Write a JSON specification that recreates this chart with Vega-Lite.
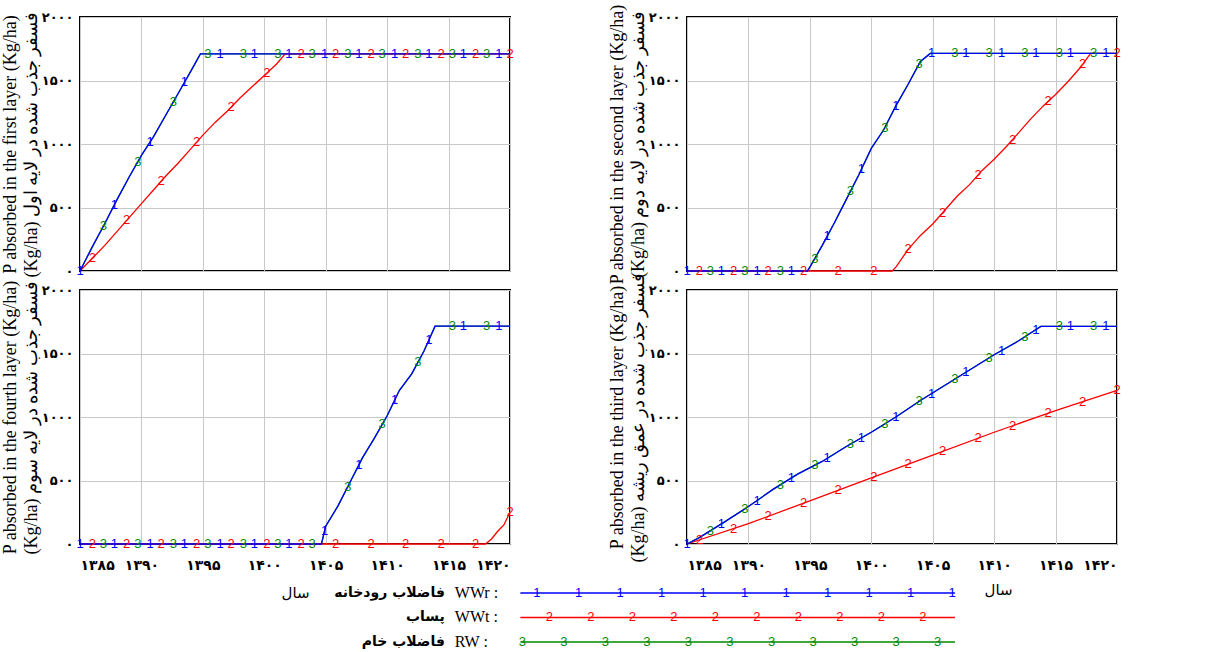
{
"$schema": "https://vega.github.io/schema/vega-lite/v6.json",
"background": "white",
"padding": {"left": 0, "top": 0, "right": 5, "bottom": 0},
"bounds": "flush",
"align": "each",
"columns": 2,
"spacing": {"row": 19, "column": 177},
"config": {
  "view": {"stroke": "#000000", "strokeWidth": 2},
  "axis": {"grid": true, "gridColor": "#c8c8c8", "gridWidth": 1, "domain": false, "ticks": false,
    "labelFont": "DejaVu Sans", "labelFontWeight": "bold", "labelFontSize": 13, "labelColor": "#000000",
    "titleColor": "#000000", "titleFont": "Liberation Serif", "titleFontWeight": "normal", "titleFontSize": 18},
  "text": {"font": "Liberation Sans", "fontSize": 13}
},
"datasets": {
  "lines": [
    {"p":"L1","s":"RW","x":1385,"y":0},{"p":"L1","s":"RW","x":1386,"y":190},{"p":"L1","s":"RW","x":1387,"y":370},{"p":"L1","s":"RW","x":1388,"y":560},{"p":"L1","s":"RW","x":1389,"y":740},{"p":"L1","s":"RW","x":1390,"y":910},{"p":"L1","s":"RW","x":1391,"y":1060},{"p":"L1","s":"RW","x":1392,"y":1230},{"p":"L1","s":"RW","x":1393,"y":1400},{"p":"L1","s":"RW","x":1394,"y":1570},{"p":"L1","s":"RW","x":1394.8,"y":1710},{"p":"L1","s":"RW","x":1420,"y":1710},
    {"p":"L1","s":"WWr","x":1385,"y":0},{"p":"L1","s":"WWr","x":1386,"y":190},{"p":"L1","s":"WWr","x":1387,"y":370},{"p":"L1","s":"WWr","x":1388,"y":560},{"p":"L1","s":"WWr","x":1389,"y":740},{"p":"L1","s":"WWr","x":1390,"y":910},{"p":"L1","s":"WWr","x":1391,"y":1060},{"p":"L1","s":"WWr","x":1392,"y":1230},{"p":"L1","s":"WWr","x":1393,"y":1400},{"p":"L1","s":"WWr","x":1394,"y":1570},{"p":"L1","s":"WWr","x":1394.8,"y":1710},{"p":"L1","s":"WWr","x":1420,"y":1710},
    {"p":"L1","s":"WWt","x":1385,"y":0},{"p":"L1","s":"WWt","x":1386,"y":100},{"p":"L1","s":"WWt","x":1387,"y":200},{"p":"L1","s":"WWt","x":1388,"y":310},{"p":"L1","s":"WWt","x":1389,"y":420},{"p":"L1","s":"WWt","x":1390,"y":530},{"p":"L1","s":"WWt","x":1391,"y":640},{"p":"L1","s":"WWt","x":1392,"y":750},{"p":"L1","s":"WWt","x":1393,"y":850},{"p":"L1","s":"WWt","x":1394,"y":960},{"p":"L1","s":"WWt","x":1395,"y":1070},{"p":"L1","s":"WWt","x":1396,"y":1170},{"p":"L1","s":"WWt","x":1397,"y":1260},{"p":"L1","s":"WWt","x":1398,"y":1360},{"p":"L1","s":"WWt","x":1399,"y":1450},{"p":"L1","s":"WWt","x":1400,"y":1540},{"p":"L1","s":"WWt","x":1401,"y":1630},{"p":"L1","s":"WWt","x":1401.7,"y":1710},{"p":"L1","s":"WWt","x":1420,"y":1710},

    {"p":"L2","s":"RW","x":1385,"y":0},{"p":"L2","s":"RW","x":1394.8,"y":0},{"p":"L2","s":"RW","x":1395,"y":30},{"p":"L2","s":"RW","x":1396,"y":200},{"p":"L2","s":"RW","x":1397,"y":380},{"p":"L2","s":"RW","x":1398,"y":570},{"p":"L2","s":"RW","x":1399,"y":760},{"p":"L2","s":"RW","x":1400,"y":965},{"p":"L2","s":"RW","x":1401,"y":1110},{"p":"L2","s":"RW","x":1402,"y":1300},{"p":"L2","s":"RW","x":1403,"y":1470},{"p":"L2","s":"RW","x":1404,"y":1650},{"p":"L2","s":"RW","x":1404.8,"y":1713},{"p":"L2","s":"RW","x":1420,"y":1713},
    {"p":"L2","s":"WWr","x":1385,"y":0},{"p":"L2","s":"WWr","x":1394.8,"y":0},{"p":"L2","s":"WWr","x":1395,"y":30},{"p":"L2","s":"WWr","x":1396,"y":200},{"p":"L2","s":"WWr","x":1397,"y":380},{"p":"L2","s":"WWr","x":1398,"y":570},{"p":"L2","s":"WWr","x":1399,"y":760},{"p":"L2","s":"WWr","x":1400,"y":965},{"p":"L2","s":"WWr","x":1401,"y":1110},{"p":"L2","s":"WWr","x":1402,"y":1300},{"p":"L2","s":"WWr","x":1403,"y":1470},{"p":"L2","s":"WWr","x":1404,"y":1650},{"p":"L2","s":"WWr","x":1404.8,"y":1713},{"p":"L2","s":"WWr","x":1420,"y":1713},
    {"p":"L2","s":"WWt","x":1385,"y":0},{"p":"L2","s":"WWt","x":1401.7,"y":0},{"p":"L2","s":"WWt","x":1402,"y":30},{"p":"L2","s":"WWt","x":1403,"y":170},{"p":"L2","s":"WWt","x":1404,"y":280},{"p":"L2","s":"WWt","x":1405,"y":370},{"p":"L2","s":"WWt","x":1406,"y":480},{"p":"L2","s":"WWt","x":1407,"y":590},{"p":"L2","s":"WWt","x":1408,"y":680},{"p":"L2","s":"WWt","x":1409,"y":790},{"p":"L2","s":"WWt","x":1410,"y":880},{"p":"L2","s":"WWt","x":1411,"y":980},{"p":"L2","s":"WWt","x":1412,"y":1090},{"p":"L2","s":"WWt","x":1413,"y":1200},{"p":"L2","s":"WWt","x":1414,"y":1300},{"p":"L2","s":"WWt","x":1415,"y":1390},{"p":"L2","s":"WWt","x":1416,"y":1490},{"p":"L2","s":"WWt","x":1417,"y":1600},{"p":"L2","s":"WWt","x":1417.85,"y":1713},{"p":"L2","s":"WWt","x":1420,"y":1713},

    {"p":"L3","s":"RW","x":1385,"y":0},{"p":"L3","s":"RW","x":1386,"y":50},{"p":"L3","s":"RW","x":1388,"y":170},{"p":"L3","s":"RW","x":1390,"y":295},{"p":"L3","s":"RW","x":1392,"y":430},{"p":"L3","s":"RW","x":1394,"y":550},{"p":"L3","s":"RW","x":1396,"y":650},{"p":"L3","s":"RW","x":1398,"y":770},{"p":"L3","s":"RW","x":1400,"y":880},{"p":"L3","s":"RW","x":1402,"y":1000},{"p":"L3","s":"RW","x":1404,"y":1130},{"p":"L3","s":"RW","x":1406,"y":1250},{"p":"L3","s":"RW","x":1408,"y":1370},{"p":"L3","s":"RW","x":1410,"y":1490},{"p":"L3","s":"RW","x":1412,"y":1600},{"p":"L3","s":"RW","x":1413.8,"y":1713},{"p":"L3","s":"RW","x":1420,"y":1713},
    {"p":"L3","s":"WWr","x":1385,"y":0},{"p":"L3","s":"WWr","x":1386,"y":50},{"p":"L3","s":"WWr","x":1388,"y":170},{"p":"L3","s":"WWr","x":1390,"y":295},{"p":"L3","s":"WWr","x":1392,"y":430},{"p":"L3","s":"WWr","x":1394,"y":550},{"p":"L3","s":"WWr","x":1396,"y":650},{"p":"L3","s":"WWr","x":1398,"y":770},{"p":"L3","s":"WWr","x":1400,"y":880},{"p":"L3","s":"WWr","x":1402,"y":1000},{"p":"L3","s":"WWr","x":1404,"y":1130},{"p":"L3","s":"WWr","x":1406,"y":1250},{"p":"L3","s":"WWr","x":1408,"y":1370},{"p":"L3","s":"WWr","x":1410,"y":1490},{"p":"L3","s":"WWr","x":1412,"y":1600},{"p":"L3","s":"WWr","x":1413.8,"y":1713},{"p":"L3","s":"WWr","x":1420,"y":1713},
    {"p":"L3","s":"WWt","x":1385,"y":0},{"p":"L3","s":"WWt","x":1390,"y":160},{"p":"L3","s":"WWt","x":1395,"y":340},{"p":"L3","s":"WWt","x":1400,"y":520},{"p":"L3","s":"WWt","x":1405,"y":700},{"p":"L3","s":"WWt","x":1410,"y":880},{"p":"L3","s":"WWt","x":1415,"y":1050},{"p":"L3","s":"WWt","x":1420,"y":1210},

    {"p":"L4","s":"RW","x":1385,"y":0},{"p":"L4","s":"RW","x":1404.65,"y":0},{"p":"L4","s":"RW","x":1405,"y":140},{"p":"L4","s":"RW","x":1406,"y":300},{"p":"L4","s":"RW","x":1407,"y":490},{"p":"L4","s":"RW","x":1408,"y":680},{"p":"L4","s":"RW","x":1409,"y":840},{"p":"L4","s":"RW","x":1410,"y":1010},{"p":"L4","s":"RW","x":1411,"y":1210},{"p":"L4","s":"RW","x":1412,"y":1340},{"p":"L4","s":"RW","x":1413,"y":1520},{"p":"L4","s":"RW","x":1413.9,"y":1715},{"p":"L4","s":"RW","x":1420,"y":1715},
    {"p":"L4","s":"WWr","x":1385,"y":0},{"p":"L4","s":"WWr","x":1404.65,"y":0},{"p":"L4","s":"WWr","x":1405,"y":140},{"p":"L4","s":"WWr","x":1406,"y":300},{"p":"L4","s":"WWr","x":1407,"y":490},{"p":"L4","s":"WWr","x":1408,"y":680},{"p":"L4","s":"WWr","x":1409,"y":840},{"p":"L4","s":"WWr","x":1410,"y":1010},{"p":"L4","s":"WWr","x":1411,"y":1210},{"p":"L4","s":"WWr","x":1412,"y":1340},{"p":"L4","s":"WWr","x":1413,"y":1520},{"p":"L4","s":"WWr","x":1413.9,"y":1715},{"p":"L4","s":"WWr","x":1420,"y":1715},
    {"p":"L4","s":"WWt","x":1385,"y":0},{"p":"L4","s":"WWt","x":1418,"y":0},{"p":"L4","s":"WWt","x":1418.5,"y":40},{"p":"L4","s":"WWt","x":1419,"y":100},{"p":"L4","s":"WWt","x":1419.5,"y":150},{"p":"L4","s":"WWt","x":1420,"y":250}
  ],
  "marks": [
    {"p":"L1","s":"WWr","t":"1","x":1385,"y":0},{"p":"L1","s":"WWr","t":"1","x":1387.8,"y":522},{"p":"L1","s":"WWr","t":"1","x":1390.7,"y":1015},{"p":"L1","s":"WWr","t":"1","x":1393.5,"y":1485},{"p":"L1","s":"WWr","t":"1","x":1396.4,"y":1710},{"p":"L1","s":"WWr","t":"1","x":1399.2,"y":1710},{"p":"L1","s":"WWr","t":"1","x":1402,"y":1710},{"p":"L1","s":"WWr","t":"1","x":1404.9,"y":1710},{"p":"L1","s":"WWr","t":"1","x":1407.7,"y":1710},{"p":"L1","s":"WWr","t":"1","x":1410.6,"y":1710},{"p":"L1","s":"WWr","t":"1","x":1413.4,"y":1710},{"p":"L1","s":"WWr","t":"1","x":1416.2,"y":1710},{"p":"L1","s":"WWr","t":"1","x":1419.1,"y":1710},
    {"p":"L1","s":"WWt","t":"2","x":1386,"y":100},{"p":"L1","s":"WWt","t":"2","x":1388.8,"y":398},{"p":"L1","s":"WWt","t":"2","x":1391.6,"y":706},{"p":"L1","s":"WWt","t":"2","x":1394.5,"y":1015},{"p":"L1","s":"WWt","t":"2","x":1397.3,"y":1290},{"p":"L1","s":"WWt","t":"2","x":1400.2,"y":1558},{"p":"L1","s":"WWt","t":"2","x":1403,"y":1710},{"p":"L1","s":"WWt","t":"2","x":1405.8,"y":1710},{"p":"L1","s":"WWt","t":"2","x":1408.7,"y":1710},{"p":"L1","s":"WWt","t":"2","x":1411.5,"y":1710},{"p":"L1","s":"WWt","t":"2","x":1414.4,"y":1710},{"p":"L1","s":"WWt","t":"2","x":1417.2,"y":1710},{"p":"L1","s":"WWt","t":"2","x":1420,"y":1710},
    {"p":"L1","s":"RW","t":"3","x":1386.9,"y":352},{"p":"L1","s":"RW","t":"3","x":1389.7,"y":859},{"p":"L1","s":"RW","t":"3","x":1392.6,"y":1332},{"p":"L1","s":"RW","t":"3","x":1395.4,"y":1710},{"p":"L1","s":"RW","t":"3","x":1398.3,"y":1710},{"p":"L1","s":"RW","t":"3","x":1401.1,"y":1710},{"p":"L1","s":"RW","t":"3","x":1403.9,"y":1710},{"p":"L1","s":"RW","t":"3","x":1406.8,"y":1710},{"p":"L1","s":"RW","t":"3","x":1409.6,"y":1710},{"p":"L1","s":"RW","t":"3","x":1412.5,"y":1710},{"p":"L1","s":"RW","t":"3","x":1415.3,"y":1710},{"p":"L1","s":"RW","t":"3","x":1418.1,"y":1710},

    {"p":"L2","s":"WWr","t":"1","x":1385,"y":0},{"p":"L2","s":"WWr","t":"1","x":1387.8,"y":0},{"p":"L2","s":"WWr","t":"1","x":1390.7,"y":0},{"p":"L2","s":"WWr","t":"1","x":1393.5,"y":0},{"p":"L2","s":"WWr","t":"1","x":1396.4,"y":272},{"p":"L2","s":"WWr","t":"1","x":1399.2,"y":801},{"p":"L2","s":"WWr","t":"1","x":1402,"y":1300},{"p":"L2","s":"WWr","t":"1","x":1404.9,"y":1713},{"p":"L2","s":"WWr","t":"1","x":1407.7,"y":1713},{"p":"L2","s":"WWr","t":"1","x":1410.6,"y":1713},{"p":"L2","s":"WWr","t":"1","x":1413.4,"y":1713},{"p":"L2","s":"WWr","t":"1","x":1416.2,"y":1713},{"p":"L2","s":"WWr","t":"1","x":1419.1,"y":1713},
    {"p":"L2","s":"WWt","t":"2","x":1386,"y":0},{"p":"L2","s":"WWt","t":"2","x":1388.8,"y":0},{"p":"L2","s":"WWt","t":"2","x":1391.6,"y":0},{"p":"L2","s":"WWt","t":"2","x":1394.5,"y":0},{"p":"L2","s":"WWt","t":"2","x":1397.3,"y":0},{"p":"L2","s":"WWt","t":"2","x":1400.2,"y":0},{"p":"L2","s":"WWt","t":"2","x":1403,"y":170},{"p":"L2","s":"WWt","t":"2","x":1405.8,"y":458},{"p":"L2","s":"WWt","t":"2","x":1408.7,"y":757},{"p":"L2","s":"WWt","t":"2","x":1411.5,"y":1035},{"p":"L2","s":"WWt","t":"2","x":1414.4,"y":1336},{"p":"L2","s":"WWt","t":"2","x":1417.2,"y":1627},{"p":"L2","s":"WWt","t":"2","x":1420,"y":1713},
    {"p":"L2","s":"RW","t":"3","x":1386.9,"y":0},{"p":"L2","s":"RW","t":"3","x":1389.7,"y":0},{"p":"L2","s":"RW","t":"3","x":1392.6,"y":0},{"p":"L2","s":"RW","t":"3","x":1395.4,"y":98},{"p":"L2","s":"RW","t":"3","x":1398.3,"y":627},{"p":"L2","s":"RW","t":"3","x":1401.1,"y":1129},{"p":"L2","s":"RW","t":"3","x":1403.9,"y":1632},{"p":"L2","s":"RW","t":"3","x":1406.8,"y":1713},{"p":"L2","s":"RW","t":"3","x":1409.6,"y":1713},{"p":"L2","s":"RW","t":"3","x":1412.5,"y":1713},{"p":"L2","s":"RW","t":"3","x":1415.3,"y":1713},{"p":"L2","s":"RW","t":"3","x":1418.1,"y":1713},

    {"p":"L3","s":"WWr","t":"1","x":1385,"y":0},{"p":"L3","s":"WWr","t":"1","x":1387.8,"y":158},{"p":"L3","s":"WWr","t":"1","x":1390.7,"y":342},{"p":"L3","s":"WWr","t":"1","x":1393.5,"y":520},{"p":"L3","s":"WWr","t":"1","x":1396.4,"y":674},{"p":"L3","s":"WWr","t":"1","x":1399.2,"y":836},{"p":"L3","s":"WWr","t":"1","x":1402,"y":1000},{"p":"L3","s":"WWr","t":"1","x":1404.9,"y":1184},{"p":"L3","s":"WWr","t":"1","x":1407.7,"y":1352},{"p":"L3","s":"WWr","t":"1","x":1410.6,"y":1523},{"p":"L3","s":"WWr","t":"1","x":1413.4,"y":1688},{"p":"L3","s":"WWr","t":"1","x":1416.2,"y":1713},{"p":"L3","s":"WWr","t":"1","x":1419.1,"y":1713},
    {"p":"L3","s":"WWt","t":"2","x":1386,"y":32},{"p":"L3","s":"WWt","t":"2","x":1388.8,"y":122},{"p":"L3","s":"WWt","t":"2","x":1391.6,"y":218},{"p":"L3","s":"WWt","t":"2","x":1394.5,"y":322},{"p":"L3","s":"WWt","t":"2","x":1397.3,"y":423},{"p":"L3","s":"WWt","t":"2","x":1400.2,"y":527},{"p":"L3","s":"WWt","t":"2","x":1403,"y":628},{"p":"L3","s":"WWt","t":"2","x":1405.8,"y":729},{"p":"L3","s":"WWt","t":"2","x":1408.7,"y":833},{"p":"L3","s":"WWt","t":"2","x":1411.5,"y":931},{"p":"L3","s":"WWt","t":"2","x":1414.4,"y":1030},{"p":"L3","s":"WWt","t":"2","x":1417.2,"y":1120},{"p":"L3","s":"WWt","t":"2","x":1420,"y":1210},
    {"p":"L3","s":"RW","t":"3","x":1386.9,"y":104},{"p":"L3","s":"RW","t":"3","x":1389.7,"y":276},{"p":"L3","s":"RW","t":"3","x":1392.6,"y":466},{"p":"L3","s":"RW","t":"3","x":1395.4,"y":620},{"p":"L3","s":"RW","t":"3","x":1398.3,"y":787},{"p":"L3","s":"RW","t":"3","x":1401.1,"y":946},{"p":"L3","s":"RW","t":"3","x":1403.9,"y":1124},{"p":"L3","s":"RW","t":"3","x":1406.8,"y":1298},{"p":"L3","s":"RW","t":"3","x":1409.6,"y":1466},{"p":"L3","s":"RW","t":"3","x":1412.5,"y":1631},{"p":"L3","s":"RW","t":"3","x":1415.3,"y":1713},{"p":"L3","s":"RW","t":"3","x":1418.1,"y":1713},

    {"p":"L4","s":"WWr","t":"1","x":1385,"y":0},{"p":"L4","s":"WWr","t":"1","x":1387.8,"y":0},{"p":"L4","s":"WWr","t":"1","x":1390.7,"y":0},{"p":"L4","s":"WWr","t":"1","x":1393.5,"y":0},{"p":"L4","s":"WWr","t":"1","x":1396.4,"y":0},{"p":"L4","s":"WWr","t":"1","x":1399.2,"y":0},{"p":"L4","s":"WWr","t":"1","x":1402,"y":0},{"p":"L4","s":"WWr","t":"1","x":1404.9,"y":100},{"p":"L4","s":"WWr","t":"1","x":1407.7,"y":623},{"p":"L4","s":"WWr","t":"1","x":1410.6,"y":1130},{"p":"L4","s":"WWr","t":"1","x":1413.4,"y":1607},{"p":"L4","s":"WWr","t":"1","x":1416.2,"y":1715},{"p":"L4","s":"WWr","t":"1","x":1419.1,"y":1715},
    {"p":"L4","s":"WWt","t":"2","x":1386,"y":0},{"p":"L4","s":"WWt","t":"2","x":1388.8,"y":0},{"p":"L4","s":"WWt","t":"2","x":1391.6,"y":0},{"p":"L4","s":"WWt","t":"2","x":1394.5,"y":0},{"p":"L4","s":"WWt","t":"2","x":1397.3,"y":0},{"p":"L4","s":"WWt","t":"2","x":1400.2,"y":0},{"p":"L4","s":"WWt","t":"2","x":1403,"y":0},{"p":"L4","s":"WWt","t":"2","x":1405.8,"y":0},{"p":"L4","s":"WWt","t":"2","x":1408.7,"y":0},{"p":"L4","s":"WWt","t":"2","x":1411.5,"y":0},{"p":"L4","s":"WWt","t":"2","x":1414.4,"y":0},{"p":"L4","s":"WWt","t":"2","x":1417.2,"y":0},{"p":"L4","s":"WWt","t":"2","x":1420,"y":250},
    {"p":"L4","s":"RW","t":"3","x":1386.9,"y":0},{"p":"L4","s":"RW","t":"3","x":1389.7,"y":0},{"p":"L4","s":"RW","t":"3","x":1392.6,"y":0},{"p":"L4","s":"RW","t":"3","x":1395.4,"y":0},{"p":"L4","s":"RW","t":"3","x":1398.3,"y":0},{"p":"L4","s":"RW","t":"3","x":1401.1,"y":0},{"p":"L4","s":"RW","t":"3","x":1403.9,"y":0},{"p":"L4","s":"RW","t":"3","x":1406.8,"y":452},{"p":"L4","s":"RW","t":"3","x":1409.6,"y":942},{"p":"L4","s":"RW","t":"3","x":1412.5,"y":1430},{"p":"L4","s":"RW","t":"3","x":1415.3,"y":1715},{"p":"L4","s":"RW","t":"3","x":1418.1,"y":1715}
  ],
  "legendRows": [
    {"s":"WWr","code":"WWr :","fa":"فاضلاب رودخانه"},
    {"s":"WWt","code":"WWt :","fa":"پساب"},
    {"s":"RW","code":"RW :","fa":"فاضلاب خام"}
  ],
  "legendMarks": [
    {"s":"WWr","t":"1","u":0},{"s":"WWr","t":"1","u":1},{"s":"WWr","t":"1","u":2},{"s":"WWr","t":"1","u":3},{"s":"WWr","t":"1","u":4},{"s":"WWr","t":"1","u":5},{"s":"WWr","t":"1","u":6},{"s":"WWr","t":"1","u":7},{"s":"WWr","t":"1","u":8},{"s":"WWr","t":"1","u":9},{"s":"WWr","t":"1","u":10},
    {"s":"WWt","t":"2","u":0.3},{"s":"WWt","t":"2","u":1.3},{"s":"WWt","t":"2","u":2.3},{"s":"WWt","t":"2","u":3.3},{"s":"WWt","t":"2","u":4.3},{"s":"WWt","t":"2","u":5.3},{"s":"WWt","t":"2","u":6.3},{"s":"WWt","t":"2","u":7.3},{"s":"WWt","t":"2","u":8.3},{"s":"WWt","t":"2","u":9.3},
    {"s":"RW","t":"3","u":-0.35},{"s":"RW","t":"3","u":0.65},{"s":"RW","t":"3","u":1.65},{"s":"RW","t":"3","u":2.65},{"s":"RW","t":"3","u":3.65},{"s":"RW","t":"3","u":4.65},{"s":"RW","t":"3","u":5.65},{"s":"RW","t":"3","u":6.65},{"s":"RW","t":"3","u":7.65},{"s":"RW","t":"3","u":8.65},{"s":"RW","t":"3","u":9.65}
  ]
},
"concat": [
  {
    "width": 430, "height": 254,
    "encoding": {
      "x": {"field": "x", "type": "quantitative", "scale": {"domain": [1385, 1420], "nice": false, "zero": false},
        "axis": {"values": [1385,1390,1395,1400,1405,1410,1415,1420], "labels": false, "title": null}},
      "y": {"field": "y", "type": "quantitative", "scale": {"domain": [0, 2000], "nice": false},
        "axis": {"values": [0,500,1000,1500,2000], "labelPadding": 7, "titlePadding": 1, "titleLineHeight": 21,
          "labelExpr": "replace(replace(replace(replace(replace(replace(replace(replace(replace(replace(format(datum.value,'d'),regexp('0','g'),'۰'),regexp('1','g'),'۱'),regexp('2','g'),'۲'),regexp('3','g'),'۳'),regexp('4','g'),'۴'),regexp('5','g'),'۵'),regexp('6','g'),'۶'),regexp('7','g'),'۷'),regexp('8','g'),'۸'),regexp('9','g'),'۹')",
          "title": ["P absorbed in the first layer (Kg/ha)", "(Kg/ha) فسفر جذب شده در لایه اول"]}}
    },
    "layer": [
      {"data": {"name": "lines"}, "transform": [{"filter": "datum.p == 'L1' && datum.s == 'RW'"}], "mark": {"type": "line", "color": "#008800", "strokeWidth": 1.3}},
      {"data": {"name": "lines"}, "transform": [{"filter": "datum.p == 'L1' && datum.s == 'WWt'"}], "mark": {"type": "line", "color": "#ff0000", "strokeWidth": 1.3}},
      {"data": {"name": "lines"}, "transform": [{"filter": "datum.p == 'L1' && datum.s == 'WWr'"}], "mark": {"type": "line", "color": "#0000ff", "strokeWidth": 1.3}},
      {"data": {"name": "marks"}, "transform": [{"filter": "datum.p == 'L1'"}], "mark": {"type": "text", "align": "center", "baseline": "middle"},
        "encoding": {"text": {"field": "t"}, "color": {"field": "s", "type": "nominal", "scale": {"domain": ["WWr","WWt","RW"], "range": ["#0000ff","#ff0000","#008800"]}, "legend": null}}}
    ]
  },
  {
    "width": 430, "height": 254,
    "encoding": {
      "x": {"field": "x", "type": "quantitative", "scale": {"domain": [1385, 1420], "nice": false, "zero": false},
        "axis": {"values": [1385,1390,1395,1400,1405,1410,1415,1420], "labels": false, "title": null}},
      "y": {"field": "y", "type": "quantitative", "scale": {"domain": [0, 2000], "nice": false},
        "axis": {"values": [0,500,1000,1500,2000], "labelPadding": 7, "titlePadding": 1, "titleLineHeight": 21,
          "labelExpr": "replace(replace(replace(replace(replace(replace(replace(replace(replace(replace(format(datum.value,'d'),regexp('0','g'),'۰'),regexp('1','g'),'۱'),regexp('2','g'),'۲'),regexp('3','g'),'۳'),regexp('4','g'),'۴'),regexp('5','g'),'۵'),regexp('6','g'),'۶'),regexp('7','g'),'۷'),regexp('8','g'),'۸'),regexp('9','g'),'۹')",
          "title": ["P absorbed in  the second layer (Kg/ha)", "(Kg/ha) فسفر جذب شده در لایه دوم"]}}
    },
    "layer": [
      {"data": {"name": "lines"}, "transform": [{"filter": "datum.p == 'L2' && datum.s == 'RW'"}], "mark": {"type": "line", "color": "#008800", "strokeWidth": 1.3}},
      {"data": {"name": "lines"}, "transform": [{"filter": "datum.p == 'L2' && datum.s == 'WWt'"}], "mark": {"type": "line", "color": "#ff0000", "strokeWidth": 1.3}},
      {"data": {"name": "lines"}, "transform": [{"filter": "datum.p == 'L2' && datum.s == 'WWr'"}], "mark": {"type": "line", "color": "#0000ff", "strokeWidth": 1.3}},
      {"data": {"name": "marks"}, "transform": [{"filter": "datum.p == 'L2'"}], "mark": {"type": "text", "align": "center", "baseline": "middle"},
        "encoding": {"text": {"field": "t"}, "color": {"field": "s", "type": "nominal", "scale": {"domain": ["WWr","WWt","RW"], "range": ["#0000ff","#ff0000","#008800"]}, "legend": null}}}
    ]
  },
  {
    "width": 430, "height": 254,
    "encoding": {
      "x": {"field": "x", "type": "quantitative", "scale": {"domain": [1385, 1420], "nice": false, "zero": false},
        "axis": {"values": [1385,1390,1395,1400,1405,1410,1415,1420], "labelPadding": 14, "labelFontSize": 14,
          "labelExpr": "replace(replace(replace(replace(replace(replace(replace(replace(replace(replace(format(datum.value,'d'),regexp('0','g'),'۰'),regexp('1','g'),'۱'),regexp('2','g'),'۲'),regexp('3','g'),'۳'),regexp('4','g'),'۴'),regexp('5','g'),'۵'),regexp('6','g'),'۶'),regexp('7','g'),'۷'),regexp('8','g'),'۸'),regexp('9','g'),'۹')",
          "title": "سال", "titleFont": "DejaVu Sans", "titleFontSize": 15, "titlePadding": 13}},
      "y": {"field": "y", "type": "quantitative", "scale": {"domain": [0, 2000], "nice": false},
        "axis": {"values": [0,500,1000,1500,2000], "labelPadding": 7, "titlePadding": 1, "titleLineHeight": 21,
          "labelExpr": "replace(replace(replace(replace(replace(replace(replace(replace(replace(replace(format(datum.value,'d'),regexp('0','g'),'۰'),regexp('1','g'),'۱'),regexp('2','g'),'۲'),regexp('3','g'),'۳'),regexp('4','g'),'۴'),regexp('5','g'),'۵'),regexp('6','g'),'۶'),regexp('7','g'),'۷'),regexp('8','g'),'۸'),regexp('9','g'),'۹')",
          "title": ["P absorbed in  the fourth layer (Kg/ha)", "(Kg/ha) فسفر جذب شده در لایه سوم"]}}
    },
    "layer": [
      {"data": {"name": "lines"}, "transform": [{"filter": "datum.p == 'L4' && datum.s == 'RW'"}], "mark": {"type": "line", "color": "#008800", "strokeWidth": 1.3}},
      {"data": {"name": "lines"}, "transform": [{"filter": "datum.p == 'L4' && datum.s == 'WWt'"}], "mark": {"type": "line", "color": "#ff0000", "strokeWidth": 1.3}},
      {"data": {"name": "lines"}, "transform": [{"filter": "datum.p == 'L4' && datum.s == 'WWr'"}], "mark": {"type": "line", "color": "#0000ff", "strokeWidth": 1.3}},
      {"data": {"name": "marks"}, "transform": [{"filter": "datum.p == 'L4'"}], "mark": {"type": "text", "align": "center", "baseline": "middle"},
        "encoding": {"text": {"field": "t"}, "color": {"field": "s", "type": "nominal", "scale": {"domain": ["WWr","WWt","RW"], "range": ["#0000ff","#ff0000","#008800"]}, "legend": null}}}
    ]
  },
  {
    "width": 430, "height": 254,
    "encoding": {
      "x": {"field": "x", "type": "quantitative", "scale": {"domain": [1385, 1420], "nice": false, "zero": false},
        "axis": {"values": [1385,1390,1395,1400,1405,1410,1415,1420], "labelPadding": 14, "labelFontSize": 14,
          "labelExpr": "replace(replace(replace(replace(replace(replace(replace(replace(replace(replace(format(datum.value,'d'),regexp('0','g'),'۰'),regexp('1','g'),'۱'),regexp('2','g'),'۲'),regexp('3','g'),'۳'),regexp('4','g'),'۴'),regexp('5','g'),'۵'),regexp('6','g'),'۶'),regexp('7','g'),'۷'),regexp('8','g'),'۸'),regexp('9','g'),'۹')",
          "title": "سال", "titleFont": "DejaVu Sans", "titleFontSize": 15, "titlePadding": 10, "titleX": 311}},
      "y": {"field": "y", "type": "quantitative", "scale": {"domain": [0, 2000], "nice": false},
        "axis": {"values": [0,500,1000,1500,2000], "labelPadding": 7, "titlePadding": 1, "titleLineHeight": 21,
          "labelExpr": "replace(replace(replace(replace(replace(replace(replace(replace(replace(replace(format(datum.value,'d'),regexp('0','g'),'۰'),regexp('1','g'),'۱'),regexp('2','g'),'۲'),regexp('3','g'),'۳'),regexp('4','g'),'۴'),regexp('5','g'),'۵'),regexp('6','g'),'۶'),regexp('7','g'),'۷'),regexp('8','g'),'۸'),regexp('9','g'),'۹')",
          "title": ["P absorbed in  the third layer (Kg/ha)", "(Kg/ha) فسفر جذب شده در عمق ریشه"]}}
    },
    "layer": [
      {"data": {"name": "lines"}, "transform": [{"filter": "datum.p == 'L3' && datum.s == 'RW'"}], "mark": {"type": "line", "color": "#008800", "strokeWidth": 1.3}},
      {"data": {"name": "lines"}, "transform": [{"filter": "datum.p == 'L3' && datum.s == 'WWt'"}], "mark": {"type": "line", "color": "#ff0000", "strokeWidth": 1.3}},
      {"data": {"name": "lines"}, "transform": [{"filter": "datum.p == 'L3' && datum.s == 'WWr'"}], "mark": {"type": "line", "color": "#0000ff", "strokeWidth": 1.3}},
      {"data": {"name": "marks"}, "transform": [{"filter": "datum.p == 'L3'"}], "mark": {"type": "text", "align": "center", "baseline": "middle"},
        "encoding": {"text": {"field": "t"}, "color": {"field": "s", "type": "nominal", "scale": {"domain": ["WWr","WWt","RW"], "range": ["#0000ff","#ff0000","#008800"]}, "legend": null}}}
    ]
  },
  {
    "width": 430, "height": 79,
    "view": {"stroke": null},
    "encoding": {
      "y": {"field": "s", "type": "nominal", "scale": {"type": "point", "domain": ["WWr","WWt","RW"], "padding": 0.612, "align": 1}, "axis": null},
      "color": {"field": "s", "type": "nominal", "scale": {"domain": ["WWr","WWt","RW"], "range": ["#0000ff","#ff0000","#008800"]}, "legend": null}
    },
    "layer": [
      {"data": {"name": "legendRows"}, "mark": {"type": "rule", "strokeWidth": 1.5},
        "encoding": {"x": {"datum": -0.4, "type": "quantitative", "scale": {"domain": [-11.01, -0.65], "nice": false, "zero": false}, "axis": null}, "x2": {"datum": 10.07}}},
      {"data": {"name": "legendMarks"}, "mark": {"type": "text", "align": "center", "baseline": "middle"},
        "encoding": {"x": {"field": "u", "type": "quantitative"}, "text": {"field": "t"}}},
      {"data": {"name": "legendRows"}, "mark": {"type": "text", "align": "left", "baseline": "middle", "font": "Liberation Serif", "fontSize": 16},
        "encoding": {"x": {"datum": -1.98, "type": "quantitative"}, "text": {"field": "code"}, "color": {"value": "#000000"}}},
      {"data": {"name": "legendRows"}, "mark": {"type": "text", "align": "right", "baseline": "middle", "font": "DejaVu Sans", "fontWeight": "bold", "fontSize": 14},
        "encoding": {"x": {"datum": -2.22, "type": "quantitative"}, "text": {"field": "fa"}, "color": {"value": "#000000"}}}
    ]
  }
]
}
